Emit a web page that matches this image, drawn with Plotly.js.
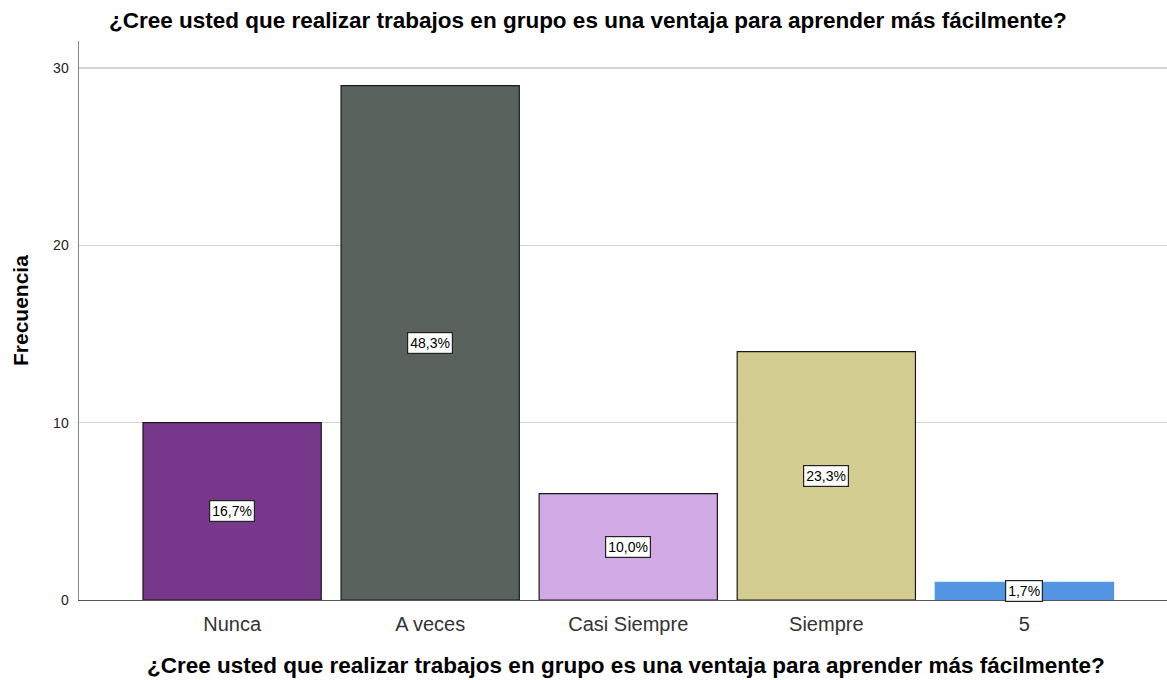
<!DOCTYPE html>
<html>
<head>
<meta charset="utf-8">
<script src="https://cdn.plot.ly/plotly-3.0.1.min.js"></script>
<style>html,body{margin:0;padding:0;background:#fff;}#chart{width:1167px;height:680px;}</style>
</head>
<body>
<div id="chart"></div>
<script>
const categories = ["Nunca", "A veces", "Casi Siempre", "Siempre", "5"];
const frequencies = [10, 29, 6, 14, 1];
const barColors = ["#77378a", "#59625c", "#d1a9e4", "#d2cc8f", "#5294e2"];
const lineColors = ["#1a1a1a", "#1a1a1a", "#1a1a1a", "#1a1a1a", "#5294e2"];
const yTicks = [0, 10, 20, 30];
const titleText = "¿Cree usted que realizar trabajos en grupo es una ventaja para aprender más fácilmente?";

const total = frequencies.reduce((a, b) => a + b, 0);
const pctLabels = frequencies.map(v => (v / total * 100).toFixed(1).replace('.', ',') + '%');
const FONT = 'Liberation Sans, Arial, sans-serif';

const trace = {
  type: 'bar',
  x: categories,
  y: frequencies,
  marker: { color: barColors, line: { color: lineColors, width: 1.2 } },
  hoverinfo: 'none',
  width: 0.9
};

const annotations = categories.map((c, i) => ({
  x: i, y: frequencies[i] / 2, xref: 'x', yref: 'y',
  text: pctLabels[i], showarrow: false,
  font: { family: FONT, size: 14, color: '#000' },
  bgcolor: '#ffffff', bordercolor: '#222', borderwidth: 1.2, borderpad: 2
}));

annotations.push({
  text: titleText, xref: 'paper', yref: 'paper', x: (588 - 79) / (1167 - 79), y: 1,
  yshift: 21, showarrow: false, xanchor: 'center', yanchor: 'middle',
  font: { family: FONT, size: 22.5, color: '#000', weight: 'bold' }
});
annotations.push({
  text: titleText, xref: 'paper', yref: 'paper', x: (626 - 79) / (1167 - 79), y: 0,
  yshift: -65, showarrow: false, xanchor: 'center', yanchor: 'middle',
  font: { family: FONT, size: 22.5, color: '#000', weight: 'bold' }
});
annotations.push({
  text: 'Frecuencia', xref: 'paper', yref: 'paper', x: 0, y: (600 - 311) / (600 - 41),
  xshift: -59, showarrow: false, textangle: -90, xanchor: 'center', yanchor: 'middle',
  font: { family: FONT, size: 21, color: '#000', weight: 'bold' }
});

const layout = {
  width: 1167, height: 680,
  margin: { l: 79, r: 0, t: 41, b: 80 },
  paper_bgcolor: '#fff', plot_bgcolor: '#fff',
  showlegend: false,
  bargap: 0.1,
  xaxis: {
    type: 'category', range: [-0.773, 4.72],
    showgrid: false, zeroline: false,
    showline: true, linecolor: '#555', linewidth: 1,
    ticks: '', ticklabelstandoff: 6,
    tickfont: { family: FONT, size: 20, color: '#333' },
    fixedrange: true
  },
  yaxis: {
    range: [0, 31.52], tickvals: yTicks,
    showgrid: true, gridcolor: '#d4d4d4', gridwidth: 1.5,
    zeroline: false, showline: true, linecolor: '#888', linewidth: 1.5,
    ticks: '', ticklen: 0, ticklabelstandoff: 6,
    tickfont: { family: FONT, size: 14, color: '#222' },
    fixedrange: true
  },
  annotations: annotations
};

Plotly.newPlot('chart', [trace], layout, { displayModeBar: false, staticPlot: true });
</script>
</body>
</html>
